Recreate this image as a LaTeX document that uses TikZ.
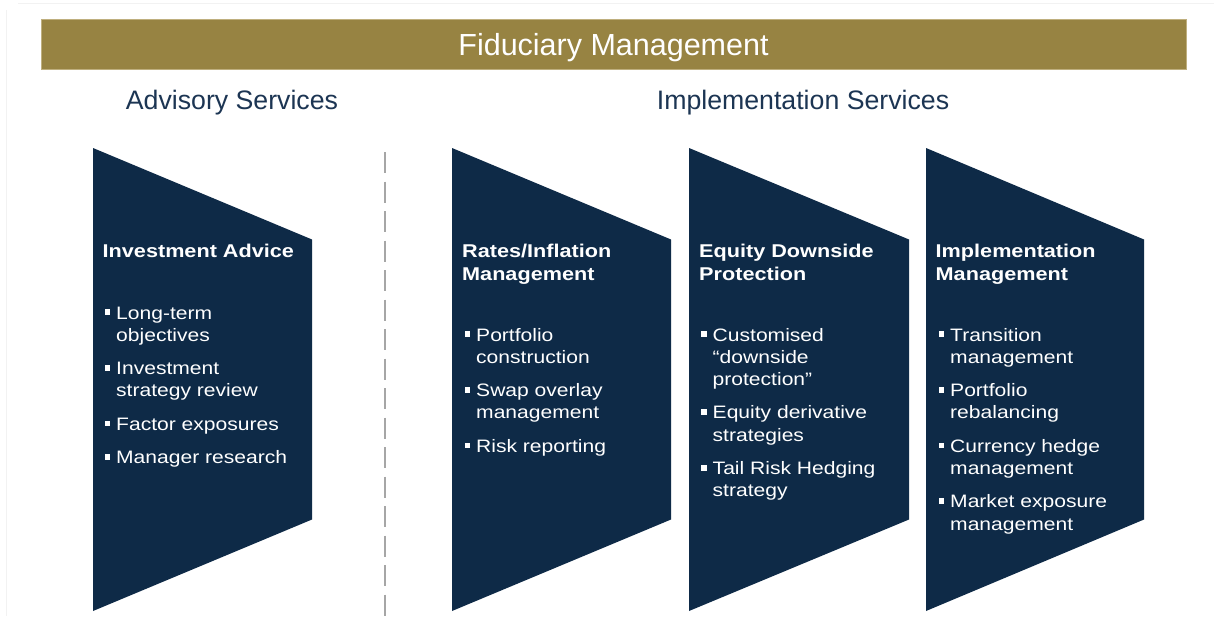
\documentclass[tikz,border=0pt]{standalone}
\usepackage{fontspec}
\setmainfont{Liberation Sans}
\newfontfamily\boxfont[FakeStretch=1.17]{Liberation Sans}

\definecolor{gold}{HTML}{978342}
\definecolor{goldedge}{HTML}{BFAF7E}
\definecolor{navy}{HTML}{0E2A47}
\definecolor{titleblue}{HTML}{1C3553}
\definecolor{divider}{HTML}{A6A6A6}
\definecolor{frame}{HTML}{F2F2F2}

% small square bullet hung to the left of the item text
\newcommand\bsq{\llap{\raisebox{4pt}{\rule{5.7pt}{5.7pt}}\hspace{6pt}}}

\tikzset{
  panel/.style={fill=navy},
  head/.style={anchor=base west, inner sep=0pt, text=white,
    font=\boxfont\bfseries\fontsize{18.5}{23}\selectfont},
  items/.style={anchor=base west, inner sep=0pt, text=white,
    font=\boxfont\fontsize{18}{22.3}\selectfont},
  section/.style={anchor=base, inner sep=0pt, text=titleblue,
    font=\fontsize{26.7}{30}\selectfont},
}

\begin{document}
\begin{tikzpicture}[x=1pt, y=-1pt]
\useasboundingbox[fill=white] (0,0) rectangle (1214,616);

% faint page edge
\draw[frame, line width=1pt] (18,3) -- (1214,3);
\draw[frame, line width=1pt] (6,10) -- (6,616);

% banner
\fill[gold, draw=goldedge, line width=0.8pt] (41,19) rectangle (1186,69);
\node[anchor=base, inner sep=0pt, text=white, font=\fontsize{30.5}{34}\selectfont]
  (banner) at (613.5,55) {Fiduciary Management};

% section titles
\node[section] (advisory) at (232,109) {Advisory Services};
\node[section] (implementation) at (803,109) {Implementation Services};

% divider
\coordinate (divtop) at (385,152);
\coordinate (divbot) at (385,616);
\draw[divider, line width=2pt, dash pattern=on 21pt off 8.5pt] (divtop) -- (divbot);

% panels
\fill[panel] (93,148) -- (312,239.5) -- (312,519.5) -- (93,611) -- cycle;
\fill[panel] (452,148) -- (671,239.5) -- (671,519.5) -- (452,611) -- cycle;
\fill[panel] (689,148) -- (909,239.5) -- (909,519.5) -- (689,611) -- cycle;
\fill[panel] (926,148) -- (1144,239.5) -- (1144,519.5) -- (926,611) -- cycle;

% panel 1
\node[head] (h1) at (102.5,257) {Investment Advice};
\node[items] (b1) at (116,319) {\begin{tabular}[t]{@{}l@{}}
\bsq Long-term\\ objectives\\[11pt]
\bsq Investment\\ strategy review\\[11pt]
\bsq Factor exposures\\[11pt]
\bsq Manager research
\end{tabular}};

% panel 2
\node[head] (h2) at (462,257) {\begin{tabular}[t]{@{}l@{}}Rates/Inflation\\Management\end{tabular}};
\node[items] (b2) at (476,341) {\begin{tabular}[t]{@{}l@{}}
\bsq Portfolio\\ construction\\[11pt]
\bsq Swap overlay\\ management\\[11pt]
\bsq Risk reporting
\end{tabular}};

% panel 3
\node[head] (h3) at (699,257) {\begin{tabular}[t]{@{}l@{}}Equity Downside\\Protection\end{tabular}};
\node[items] (b3) at (712.5,341) {\begin{tabular}[t]{@{}l@{}}
\bsq Customised\\ “downside\\ protection”\\[11pt]
\bsq Equity derivative\\ strategies\\[11pt]
\bsq Tail Risk Hedging\\ strategy
\end{tabular}};

% panel 4
\node[head] (h4) at (935.5,257) {\begin{tabular}[t]{@{}l@{}}Implementation\\Management\end{tabular}};
\node[items] (b4) at (950,341) {\begin{tabular}[t]{@{}l@{}}
\bsq Transition\\ management\\[11pt]
\bsq Portfolio\\ rebalancing\\[11pt]
\bsq Currency hedge\\ management\\[11pt]
\bsq Market exposure\\ management
\end{tabular}};
\end{tikzpicture}
\end{document}
